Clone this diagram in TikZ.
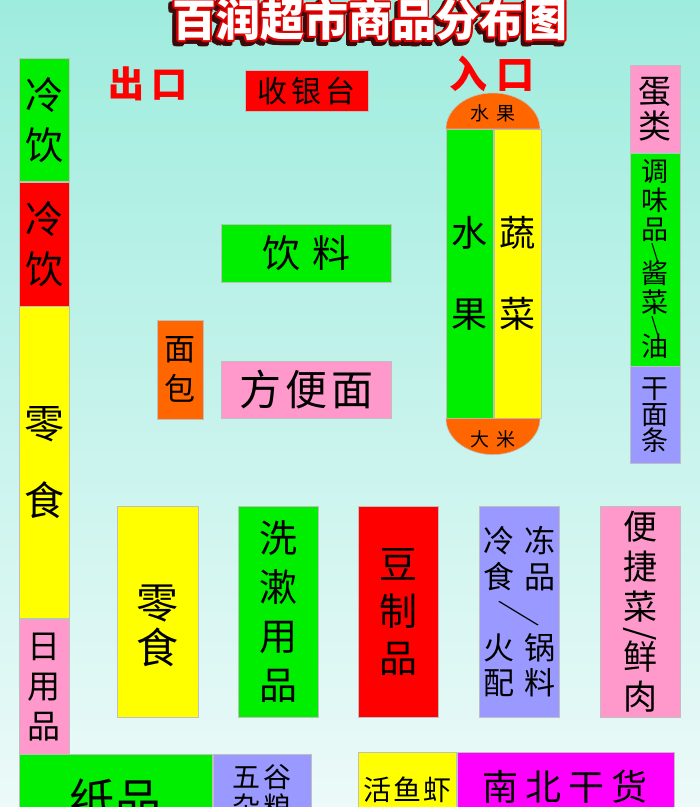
\documentclass[tikz,border=0pt]{standalone}
\usepackage{fontspec}
\usepackage{graphicx}
\newfontfamily\cjk{Noto Sans CJK SC}
\usetikzlibrary{calc}

\definecolor{bgtop}{RGB}{158,236,222}
\definecolor{bgbot}{RGB}{236,250,249}
\definecolor{shelfgreen}{RGB}{0,238,0}
\definecolor{shelfred}{RGB}{255,0,0}
\definecolor{shelfyellow}{RGB}{255,255,0}
\definecolor{shelfpink}{RGB}{255,153,204}
\definecolor{shelforange}{RGB}{255,102,0}
\definecolor{shelfblue}{RGB}{153,153,255}
\definecolor{shelfmagenta}{RGB}{255,0,255}
\definecolor{titlered}{RGB}{225,0,0}
\definecolor{titleshade}{RGB}{60,10,10}

\newcommand\sz[2]{\fontsize{#1}{#2}\selectfont}

\tikzset{
    shelf/.style={fill=#1, draw=black!25, line width=0.6pt, inner sep=0pt, anchor=north west, align=center},
    titletext/.style={font=\cjk\bfseries\sz{44}{44}, inner sep=0pt},
    doorsign/.style={text=shelfred, font=\cjk\bfseries\sz{36}{36}, inner sep=0pt},
}

\begin{document}
\begin{tikzpicture}[x=1pt, y=-1pt]
    \def \gap {\hspace{10pt}}
    % Background
    \useasboundingbox (0,0) rectangle (700,807);
    \clip (0,0) rectangle (700,807);
    \shade[top color=bgtop, bottom color=bgbot] (0,0) rectangle (700,807);
    % Title
    \foreach \a in {0,30,...,330}
        \node[titletext, text=titleshade] (shade-\a) at ($(367,23)+(\a:2.5)$) {百润超市商品分布图};
    \foreach \a in {0,30,...,330}
        \node[titletext, text=titlered] (rim-\a) at ($(370,20)+(\a:2)$) {百润超市商品分布图};
    \node[titletext, text=white] (title) at (370,20) {百润超市商品分布图};
    % Doors
    \node[doorsign] (exit) at (148,84) {出\hspace{8pt}口};
    \node[doorsign, font=\cjk\bfseries\sz{38}{38}] (entry) at (492,74) {入\gap 口};
    % Left shelf
    \node[shelf=shelfgreen, minimum width=50pt, minimum height=123pt, font=\cjk\sz{38}{50}] (coldA) at (19,58) {冷\\饮};
    \node[shelf=shelfred, minimum width=50pt, minimum height=124pt, font=\cjk\sz{38}{50}] (coldB) at (coldA.south west) {冷\\饮};
    \node[shelf=shelfyellow, minimum width=50pt, minimum height=312pt, font=\cjk\sz{40}{77}] (snackA) at (coldB.south west) {零\\食};
    \node[shelf=shelfpink, minimum width=50pt, minimum height=135pt, font=\cjk\sz{33}{40}] (daily) at (snackA.south west) {日\\用\\品};
    % Bottom shelf
    \node[shelf=shelfgreen, minimum width=193pt, minimum height=90pt, font=\cjk\sz{46}{46}] (paper) at (daily.south west) {纸品};
    \node[shelf=shelfblue, minimum width=98pt, minimum height=74pt, font=\cjk\sz{28}{30}] (grains) at (paper.north east) {五\hspace{3pt}谷\\杂\hspace{3pt}粮};
    \node[shelf=shelfyellow, minimum width=98pt, minimum height=74pt, font=\cjk\sz{28}{30}] (fish) at (358,752) {活\hspace{2pt}鱼\hspace{2pt}虾};
    \node[shelf=shelfmagenta, minimum width=217pt, minimum height=68pt, font=\cjk\sz{36}{36}] (dried) at (fish.north east) {南\hspace{7pt}北\hspace{7pt}干\hspace{7pt}货};
    % Cashier and middle shelves
    \node[shelf=shelfred, minimum width=123pt, minimum height=41pt, font=\cjk\sz{30}{30}] (cashier) at (245,70) {收\hspace{4pt}银\hspace{4pt}台};
    \node[shelf=shelfgreen, minimum width=170pt, minimum height=58pt, font=\cjk\sz{38}{38}] (drinks) at (221,224) {饮\hspace{12pt}料};
    \node[shelf=shelforange, minimum width=46pt, minimum height=99pt, font=\cjk\sz{31}{40}] (bread) at (157,320) {面\\包};
    \node[shelf=shelfpink, minimum width=170pt, minimum height=57pt, font=\cjk\sz{42}{42}] (noodles) at (221,361) {方\hspace{4pt}便\hspace{4pt}面};
    % Fruit and vegetable island
    \node[shelf=shelfgreen, minimum width=47pt, minimum height=289pt, font=\cjk\sz{36}{81}] (fruit) at (446,129) {水\\果};
    \node[shelf=shelfyellow, minimum width=47pt, minimum height=289pt, font=\cjk\sz{36}{81}] (veg) at (fruit.north east) {蔬\\菜};
    \fill[shelforange, draw=black!25, line width=0.6pt] (fruit.north west) arc (180:360:47 and 36) -- cycle;
    \fill[shelforange, draw=black!25, line width=0.6pt] (fruit.south west) arc (180:0:47 and 36) -- cycle;
    \node[font=\cjk\sz{19}{19}, inner sep=0pt] (fruitcap) at (493,113) {水\hspace{7pt}果};
    \node[font=\cjk\sz{19}{19}, inner sep=0pt] (ricecap) at (493,439) {大\hspace{7pt}米};
    % Right shelf
    \node[shelf=shelfpink, minimum width=50pt, minimum height=87pt, font=\cjk\sz{33}{35}] (eggs) at (630,65) {蛋\\类};
    \node[shelf=shelfgreen, minimum width=50pt, minimum height=213pt, font=\cjk\sz{27}{29}] (spice) at (eggs.south west) {调\\味\\品\\[-7pt]\raisebox{3pt}{\scalebox{0.7}{\textbackslash}}\\[-7pt]酱\\菜\\[-7pt]\raisebox{3pt}{\scalebox{0.7}{\textbackslash}}\\[-7pt]油};
    \node[shelf=shelfblue, minimum width=50pt, minimum height=97pt, font=\cjk\sz{27}{26}] (dryNoodle) at (spice.south west) {干\\面\\条};
    % Row of shelves
    \node[shelf=shelfyellow, minimum width=81pt, minimum height=211pt] (snackB) at (117,506) {};
    \node[font=\cjk\sz{42}{45}, align=center, inner sep=0pt] (snackBtext) at ($(snackB.center)+(0,14)$) {零\\食};
    \node[shelf=shelfgreen, minimum width=80pt, minimum height=211pt, font=\cjk\sz{38}{49}] (wash) at (238,506) {洗\\漱\\用\\品};
    \node[shelf=shelfred, minimum width=80pt, minimum height=211pt, font=\cjk\sz{38}{47}] (tofu) at (358,506) {豆\\制\\品};
    \node[shelf=shelfblue, minimum width=80pt, minimum height=211pt, font=\cjk\sz{31}{35.5}] (frozen) at (479,506) {冷\gap 冻\\食\gap 品\\\scalebox{1.4}[0.85]{\rotatebox[origin=c]{-90}{／}}\\火\gap 锅\\配\gap 料};
    \node[shelf=shelfpink, minimum width=80pt, minimum height=211pt, font=\cjk\sz{34}{40}] (fresh) at (600,506) {便\\捷\\菜\\[-15pt]\rotatebox[origin=c]{-90}{/}\\[-15pt]鲜\\肉};
\end{tikzpicture}
\end{document}
